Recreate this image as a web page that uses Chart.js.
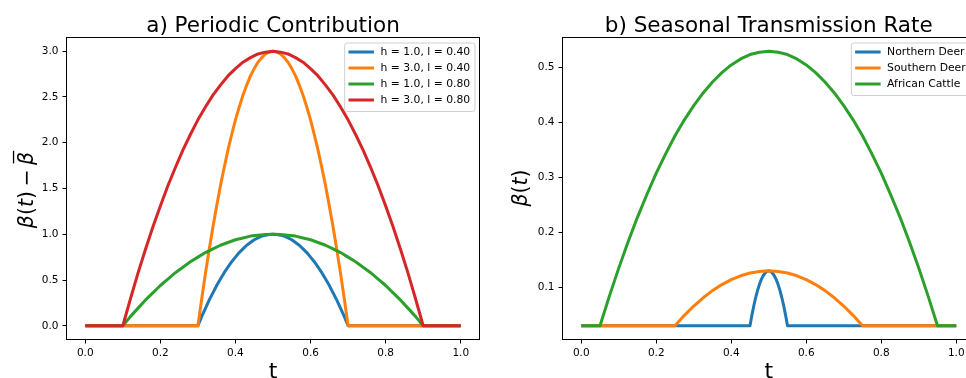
<!DOCTYPE html>
<html lang="en">
<head>
<meta charset="UTF-8" />
<title>Periodic contribution and seasonal transmission rate</title>
<script src="https://cdn.jsdelivr.net/npm/chart.js@4"></script>
<style>
  html, body { margin: 0; padding: 0; background: #fff; overflow: hidden; width: 966px; height: 378px; }
  canvas { position: absolute; top: 0; }
  #left { left: 0; }
  #right { left: 482px; }
</style>
</head>
<body>
<canvas id="left" width="482" height="378"></canvas>
<canvas id="right" width="500" height="378"></canvas>
<script>
  // ---- data ----
  // panel a: time points for the wide (l = 0.80) and narrow (l = 0.40) pulses
  const tWide   = [0, 0.1, 0.12, 0.14, 0.16, 0.18, 0.2, 0.22, 0.24, 0.26, 0.28, 0.3, 0.32, 0.34, 0.36, 0.38, 0.4, 0.42, 0.44, 0.46, 0.48,
                   0.5, 0.52, 0.54, 0.56, 0.58, 0.6, 0.62, 0.64, 0.66, 0.68, 0.7, 0.72, 0.74, 0.76, 0.78, 0.8, 0.82, 0.84, 0.86, 0.88, 0.9, 1.0];
  const tNarrow = [0, 0.3, 0.31, 0.32, 0.33, 0.34, 0.35, 0.36, 0.37, 0.38, 0.39, 0.4, 0.41, 0.42, 0.43, 0.44, 0.45, 0.46, 0.47, 0.48, 0.49,
                   0.5, 0.51, 0.52, 0.53, 0.54, 0.55, 0.56, 0.57, 0.58, 0.59, 0.6, 0.61, 0.62, 0.63, 0.64, 0.65, 0.66, 0.67, 0.68, 0.69, 0.7, 1.0];
  const h1l40 = [0, 0, 0.10, 0.19, 0.28, 0.36, 0.44, 0.51, 0.58, 0.64, 0.70, 0.75, 0.80, 0.84, 0.88, 0.91, 0.94, 0.96, 0.98, 0.99, 0.998,
                 1.00, 0.998, 0.99, 0.98, 0.96, 0.94, 0.91, 0.88, 0.84, 0.80, 0.75, 0.70, 0.64, 0.58, 0.51, 0.44, 0.36, 0.28, 0.19, 0.10, 0, 0];
  const h3l40 = [0, 0, 0.29, 0.57, 0.83, 1.08, 1.31, 1.53, 1.73, 1.92, 2.09, 2.25, 2.39, 2.52, 2.63, 2.73, 2.81, 2.88, 2.93, 2.97, 2.99,
                 3.00, 2.99, 2.97, 2.93, 2.88, 2.81, 2.73, 2.63, 2.52, 2.39, 2.25, 2.09, 1.92, 1.73, 1.53, 1.31, 1.08, 0.83, 0.57, 0.29, 0, 0];
  const h1l80 = [0, 0, 0.10, 0.19, 0.28, 0.36, 0.44, 0.51, 0.58, 0.64, 0.70, 0.75, 0.80, 0.84, 0.88, 0.91, 0.94, 0.96, 0.98, 0.99, 0.998,
                 1.00, 0.998, 0.99, 0.98, 0.96, 0.94, 0.91, 0.88, 0.84, 0.80, 0.75, 0.70, 0.64, 0.58, 0.51, 0.44, 0.36, 0.28, 0.19, 0.10, 0, 0];
  const h3l80 = [0, 0, 0.29, 0.57, 0.83, 1.08, 1.31, 1.53, 1.73, 1.92, 2.09, 2.25, 2.39, 2.52, 2.63, 2.73, 2.81, 2.88, 2.93, 2.97, 2.99,
                 3.00, 2.99, 2.97, 2.93, 2.88, 2.81, 2.73, 2.63, 2.52, 2.39, 2.25, 2.09, 1.92, 1.73, 1.53, 1.31, 1.08, 0.83, 0.57, 0.29, 0, 0];
  const labelsA = ['h = 1.0, l = 0.40', 'h = 3.0, l = 0.40', 'h = 1.0, l = 0.80', 'h = 3.0, l = 0.80'];

  // panel b: seasonal transmission rate
  const tNorth  = [0, 0.45, 0.455, 0.46, 0.465, 0.47, 0.475, 0.48, 0.485, 0.49, 0.495, 0.5,
                   0.505, 0.51, 0.515, 0.52, 0.525, 0.53, 0.535, 0.54, 0.545, 0.55, 1.0];
  const north   = [0.03, 0.03, 0.049, 0.066, 0.081, 0.094, 0.105, 0.114, 0.121, 0.126, 0.129, 0.13,
                   0.129, 0.126, 0.121, 0.114, 0.105, 0.094, 0.081, 0.066, 0.049, 0.03, 0.03];
  const tSouth  = [0, 0.25, 0.275, 0.3, 0.325, 0.35, 0.375, 0.4, 0.425, 0.45, 0.475, 0.5,
                   0.525, 0.55, 0.575, 0.6, 0.625, 0.65, 0.675, 0.7, 0.725, 0.75, 1.0];
  const south   = [0.03, 0.03, 0.049, 0.066, 0.081, 0.094, 0.105, 0.114, 0.121, 0.126, 0.129, 0.13,
                   0.129, 0.126, 0.121, 0.114, 0.105, 0.094, 0.081, 0.066, 0.049, 0.03, 0.03];
  const tCattle = [0, 0.05, 0.075, 0.1, 0.125, 0.15, 0.175, 0.2, 0.225, 0.25, 0.275, 0.3, 0.325, 0.35, 0.375, 0.4, 0.425, 0.45, 0.475, 0.5,
                   0.525, 0.55, 0.575, 0.6, 0.625, 0.65, 0.675, 0.7, 0.725, 0.75, 0.775, 0.8, 0.825, 0.85, 0.875, 0.9, 0.925, 0.95, 1.0];
  const cattle  = [0.03, 0.03, 0.084, 0.135, 0.183, 0.228, 0.269, 0.308, 0.343, 0.376, 0.405, 0.431, 0.454, 0.474, 0.491, 0.505, 0.516, 0.524, 0.528, 0.53,
                   0.528, 0.524, 0.516, 0.505, 0.491, 0.474, 0.454, 0.431, 0.405, 0.376, 0.343, 0.308, 0.269, 0.228, 0.183, 0.135, 0.084, 0.03, 0.03];
  const labelsB = ['Northern Deer', 'Southern Deer', 'African Cattle'];

  const xTicks  = [0, 0.2, 0.4, 0.6, 0.8, 1.0];
  const yTicksA = [0, 0.5, 1.0, 1.5, 2.0, 2.5, 3.0];
  const yTicksB = [0.1, 0.2, 0.3, 0.4, 0.5];

  const colors = ['#1f77b4', '#ff7f0e', '#2ca02c', '#d62728'];
  const FONT = '"DejaVu Sans", "Liberation Sans", sans-serif';
  const LW = 3;

  function pts(xs, ys) { return xs.map((x, i) => ({ x, y: ys[i] })); }

  function series(labels, pairs) {
    return labels.map((label, i) => ({
      label,
      data: pts(pairs[i][0], pairs[i][1]),
      borderColor: colors[i],
      backgroundColor: colors[i],
      borderWidth: LW,
      borderJoinStyle: 'round',
      pointRadius: 0,
      tension: 0,
      fill: false,
      order: labels.length - i   // later series on top, like matplotlib
    }));
  }

  // draw "β(t) − β̄" style labels with italic symbols, rotated
  function drawMath(ctx, parts, bx, cy, size) {
    ctx.save();
    ctx.translate(bx, cy);
    ctx.rotate(-Math.PI / 2);
    ctx.fillStyle = '#000';
    ctx.textBaseline = 'alphabetic';
    ctx.textAlign = 'left';
    const fonts = parts.map(p => (p.it ? 'italic ' : '') + size + 'px ' + FONT);
    const widths = parts.map((p, i) => { ctx.font = fonts[i]; return ctx.measureText(p.t).width + (p.gap || 0) * 2; });
    let x = -widths.reduce((s, w) => s + w, 0) / 2;
    parts.forEach((p, i) => {
      ctx.font = fonts[i];
      const g = p.gap || 0;
      ctx.fillText(p.t, x + g, 0);
      if (p.bar) {
        const w = ctx.measureText(p.t).width;
        ctx.fillRect(x + g + 1.5, -size * 1.0, w - 0.5, 1.3);
      }
      x += widths[i];
    });
    ctx.restore();
  }

  const decor = {
    id: 'decor',
    afterDatasetsDraw(chart, args, o) {
      const { ctx, chartArea: a } = chart;
      ctx.save();
      // legend box in upper right
      ctx.font = '10.8px ' + FONT;
      const ds = chart.data.datasets;
      const tw = Math.max(...ds.map(d => ctx.measureText(d.label).width));
      const bw = 4.3 + 24 + 8 + tw + 4.3, bh = 9.5 + 16 * (ds.length - 1) + 11;
      const bx = a.right - 5 - bw, by = a.top + 5;
      ctx.beginPath();
      ctx.roundRect(bx + 0.5, by + 0.5, bw, bh, 2.5);
      ctx.fillStyle = 'rgba(255,255,255,0.8)';
      ctx.fill();
      ctx.strokeStyle = '#d0d0d0';
      ctx.lineWidth = 1;
      ctx.stroke();
      ds.forEach((d, i) => {
        const y = by + 9.5 + i * 16;
        ctx.beginPath();
        ctx.moveTo(bx + 4.3 + 1.5, y);
        ctx.lineTo(bx + 4.3 + 24, y);
        ctx.strokeStyle = d.borderColor;
        ctx.lineWidth = LW;
        ctx.lineCap = 'square';
        ctx.stroke();
        ctx.fillStyle = '#000';
        ctx.textBaseline = 'middle';
        ctx.fillText(d.label, bx + 4.3 + 24 + 8, y + 0.5);
      });
      // frame
      ctx.strokeStyle = '#000';
      ctx.lineWidth = 1;
      ctx.lineCap = 'butt';
      ctx.strokeRect(a.left, a.top, a.right - a.left, a.bottom - a.top);
      // title and axis labels
      const cx = (a.left + a.right) / 2;
      ctx.fillStyle = '#000';
      ctx.textAlign = 'center';
      ctx.textBaseline = 'alphabetic';
      ctx.font = '21.5px ' + FONT;
      ctx.fillText(o.title, cx, 32);
      ctx.font = '22px ' + FONT;
      ctx.fillText('t', cx, 377.5);
      ctx.restore();
      drawMath(ctx, o.ylabel, o.ylabelX, o.ylabelY, 20.5);
    }
  };

  function makeChart(id, datasets, yMin, yMax, yTicks, yWidth, padRight, title, ylabel, ylabelX, ylabelY) {
    const tickFont = { family: FONT, size: 10.5 };
    return new Chart(document.getElementById(id), {
      type: 'line',
      data: { datasets },
      options: {
        responsive: false,
        devicePixelRatio: 1,
        animation: false,
        layout: { padding: { top: 37.5, left: 0, right: padRight, bottom: 0 } },
        scales: {
          x: {
            type: 'linear', min: -0.05, max: 1.05,
            afterBuildTicks: s => { s.ticks = xTicks.map(v => ({ value: v })); },
            afterFit: s => { s.height = 38.5; },
            ticks: { callback: v => v.toFixed(1), font: tickFont, color: '#000', padding: 3, maxRotation: 0, autoSkip: false },
            grid: { drawOnChartArea: false, drawTicks: true, tickLength: 4, color: '#000', lineWidth: 1 },
            border: { display: false }
          },
          y: {
            type: 'linear', min: yMin, max: yMax,
            afterBuildTicks: s => { s.ticks = yTicks.map(v => ({ value: v })); },
            afterFit: s => { s.width = yWidth; },
            ticks: { callback: v => v.toFixed(1), font: tickFont, color: '#000', padding: 4, autoSkip: false },
            grid: { drawOnChartArea: false, drawTicks: true, tickLength: 4, color: '#000', lineWidth: 1 },
            border: { display: false }
          }
        },
        plugins: {
          legend: { display: false },
          tooltip: { enabled: false },
          decor: { title, ylabel, ylabelX, ylabelY }
        }
      },
      plugins: [decor]
    });
  }

  makeChart('left',
    series(labelsA, [[tNarrow, h1l40], [tNarrow, h3l40], [tWide, h1l80], [tWide, h3l80]]),
    -0.15, 3.15, yTicksA, 66.5, 2.5,
    'a) Periodic Contribution',
    [{ t: 'β', it: true }, { t: '(' }, { t: 't', it: true }, { t: ')' }, { t: '−', gap: 4.5 }, { t: 'β', it: true, bar: true }],
    33.4, 190);

  makeChart('right',
    series(labelsB, [[tNorth, north], [tSouth, south], [tCattle, cattle]]),
    0.005, 0.555, yTicksB, 80.5, 7,
    'b) Seasonal Transmission Rate',
    [{ t: 'β', it: true }, { t: '(' }, { t: 't', it: true }, { t: ')' }],
    527.3 - 482, 188);
</script>
</body>
</html>
